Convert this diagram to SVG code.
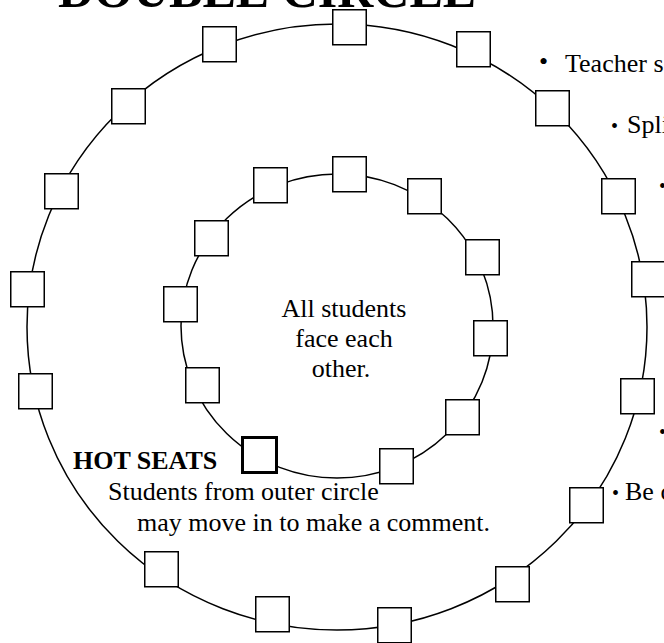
<svg xmlns="http://www.w3.org/2000/svg" width="664" height="643" viewBox="0 0 664 643">
<style>
.ring{fill:none;stroke:#000;stroke-width:1.5}
.seat{fill:#fff;stroke:#000;stroke-width:1.5}
.hot{fill:#fff;stroke:#000;stroke-width:3}
.t{font-family:"Liberation Serif","Times New Roman",serif;font-size:26px;fill:#000}
.b{font-weight:bold}
</style>
<rect width="664" height="643" fill="#fff"/>
<text class="t b" x="58" y="7" style="font-size:50px">DOUBLE CIRCLE</text>
<g id="connectors">
<ellipse class="ring" cx="337" cy="327" rx="310" ry="303"/>
<ellipse class="ring" cx="337" cy="326" rx="156" ry="152"/>
</g>
<g id="outer-seats">
<rect id="o1" class="seat" x="332.75" y="9.75" width="33.5" height="35"/>
<rect id="o2" class="seat" x="456.75" y="31.75" width="33.5" height="35"/>
<rect id="o3" class="seat" x="535.75" y="90.75" width="33.5" height="35"/>
<rect id="o4" class="seat" x="601.75" y="178.75" width="33.5" height="35"/>
<rect id="o5" class="seat" x="631.75" y="261.75" width="33.5" height="35"/>
<rect id="o6" class="seat" x="620.75" y="378.75" width="33.5" height="35"/>
<rect id="o7" class="seat" x="569.75" y="487.75" width="33.5" height="35"/>
<rect id="o8" class="seat" x="495.75" y="566.75" width="33.5" height="35"/>
<rect id="o9" class="seat" x="377.75" y="607.75" width="33.5" height="35"/>
<rect id="o10" class="seat" x="255.75" y="596.75" width="33.5" height="35"/>
<rect id="o11" class="seat" x="144.75" y="551.75" width="33.5" height="35"/>
<rect id="o12" class="seat" x="18.75" y="373.75" width="33.5" height="35"/>
<rect id="o13" class="seat" x="10.75" y="271.75" width="33.5" height="35"/>
<rect id="o14" class="seat" x="44.75" y="173.75" width="33.5" height="35"/>
<rect id="o15" class="seat" x="111.75" y="88.75" width="33.5" height="35"/>
<rect id="o16" class="seat" x="202.75" y="26.75" width="33.5" height="35"/>
</g>
<g id="inner-seats">
<rect id="i1" class="seat" x="332.75" y="156.75" width="33.5" height="35"/>
<rect id="i2" class="seat" x="407.75" y="178.75" width="33.5" height="35"/>
<rect id="i3" class="seat" x="465.75" y="239.75" width="33.5" height="35"/>
<rect id="i4" class="seat" x="473.75" y="320.75" width="33.5" height="35"/>
<rect id="i5" class="seat" x="445.75" y="399.75" width="33.5" height="35"/>
<rect id="i6" class="seat" x="379.75" y="448.75" width="33.5" height="35"/>
<rect id="i8" class="seat" x="185.75" y="367.75" width="33.5" height="35"/>
<rect id="i9" class="seat" x="163.75" y="286.75" width="33.5" height="35"/>
<rect id="i10" class="seat" x="194.75" y="220.75" width="33.5" height="35"/>
<rect id="i11" class="seat" x="253.75" y="167.75" width="33.5" height="35"/>
</g>
<g id="hot-seat">
<rect class="hot" x="242.5" y="437.5" width="34" height="35"/>
</g>
<g id="center-label">
<text class="t" text-anchor="middle" x="344" y="317">All students</text>
<text class="t" text-anchor="middle" x="344" y="347">face each</text>
<text class="t" text-anchor="middle" x="341" y="377">other.</text>
</g>
<g id="hot-label">
<text class="t b" x="73" y="469">HOT SEATS</text>
<text class="t" x="108" y="500">Students from outer circle</text>
<text class="t" x="137" y="531">may move in to make a comment.</text>
</g>
<g id="notes">
<text class="t" x="539" y="70">•</text>
<text class="t" x="565" y="72">Teacher s</text>
<text class="t" x="611" y="133" style="font-size:20px">•</text>
<text class="t" x="627" y="133">Spli</text>
<text class="t" x="659" y="193" style="font-size:20px">•</text>
<text class="t" x="659" y="439" style="font-size:20px">•</text>
<text class="t" x="612" y="500" style="font-size:20px">•</text>
<text class="t" x="625" y="500">Be c</text>
</g>
</svg>
